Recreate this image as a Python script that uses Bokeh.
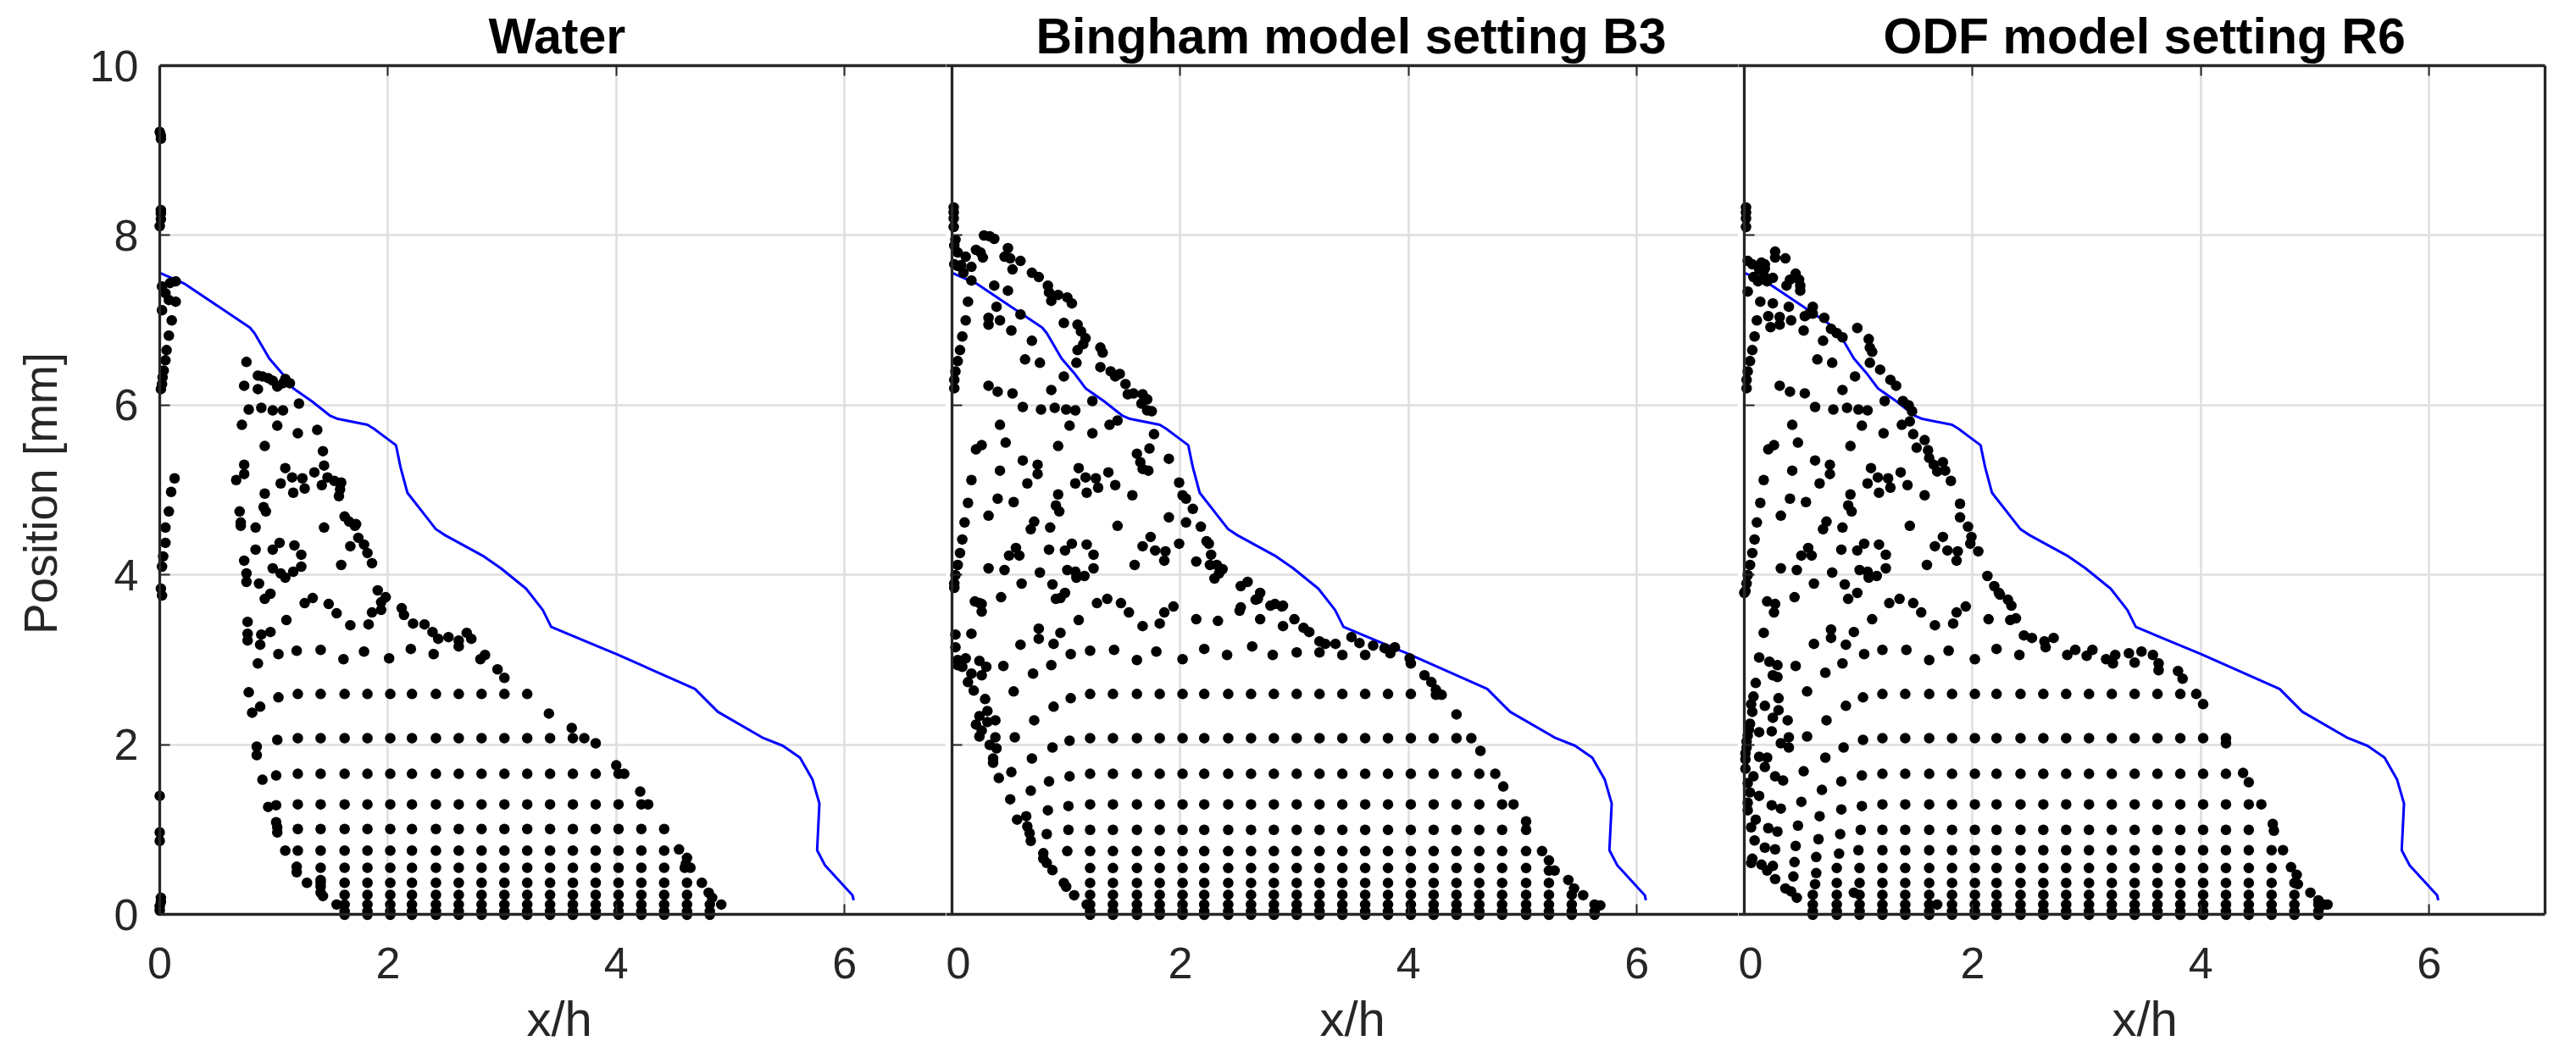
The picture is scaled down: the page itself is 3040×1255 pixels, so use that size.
from bokeh.plotting import figure
from bokeh.layouts import row
from bokeh.models import Range1d, FixedTicker, LinearAxis, Grid, Title
from bokeh.embed import file_html
from bokeh.resources import INLINE

titles = ["Water", "Bingham model setting B3", "ODF model setting R6"]
title_offsets = [395, 106, 171]
x_label = "x/h"
x_label_offsets = [440, 441, 441]
y_label = "Position [mm]"
x_ticks = [0, 2, 4, 6]
y_ticks = [0, 2, 4, 6, 8, 10]

front_x = [0.0,0.22,0.79,0.83,0.96,1.07,1.17,1.33,1.49,1.56,1.82,1.88,2.07,2.11,2.17,2.42,2.5,2.84,2.99,3.21,3.356,3.43,4.0,4.69,4.89,5.29,5.46,5.61,5.72,5.78,5.76,5.83,6.07,6.08]
front_y = [7.56,7.43,6.915,6.85,6.55,6.38,6.2,6.05,5.88,5.84,5.77,5.72,5.53,5.27,4.97,4.54,4.47,4.22,4.08,3.84,3.59,3.39,3.07,2.66,2.39,2.08,1.99,1.85,1.59,1.31,0.76,0.58,0.23,0.17]

# columns of the regular particle block, and each panel's rows: (y, first column, last column)
block_cols = [0.6,0.81,1.01,1.21,1.41,1.62,1.82,2.02,2.21,2.42,2.62,2.82,3.02,3.22,3.42,3.62,3.82,4.02,4.22,4.42,4.62,4.82,5.03,5.23,5.43,5.63]
water_rows = [(2.6,1.21,3.22),(2.08,1.21,3.62),(1.66,1.21,4.02),(1.3,1.21,4.22),(1.01,1.21,4.42),(0.755,1.21,4.42),(0.553,1.41,4.42),(0.376,1.41,4.62),(0.234,1.62,4.62),(0.12,1.62,4.82),(0.04,1.62,4.82),(0.0,1.62,4.82)]
bingham_rows = [(2.6,1.21,4.02),(2.08,1.21,4.42),(1.66,1.21,4.62),(1.3,1.21,4.82),(1.0,1.21,4.82),(0.75,1.01,5.03),(0.55,1.21,5.03),(0.375,1.21,5.23),(0.235,1.21,5.43),(0.12,1.21,5.63),(0.04,1.21,5.63),(0.0,1.21,5.63)]
odf_rows = [(2.6,1.21,3.82),(2.08,1.21,4.22),(1.66,1.21,4.22),(1.3,1.21,4.42),(1.0,1.21,4.42),(0.76,1.21,4.62),(0.55,0.81,4.62),(0.375,0.81,4.82),(0.235,0.6,4.82),(0.12,0.6,5.03),(0.04,0.6,5.03),(0.0,0.6,5.03)]

water_pts = [(0,9.22),(0.01,9.18),(0.01,9.14),(0.01,8.3),(0.01,8.26),(0.01,8.19),(0,8.11),
(0.14,7.46),(0.09,7.44),(0.02,7.4),(0.05,7.32),(0.08,7.24),(0.14,7.22),(0.02,7.12),(0.105,7.0),(0.08,6.82),(0.06,6.65),(0.05,6.53),(0.035,6.41),(0.025,6.33),(0.02,6.25),(0.01,6.19),
(0.76,6.51),(0.74,6.23),(0.86,6.19),(0.86,6.35),(0.9,6.34),(0.95,6.32),(0.99,6.29),(1.03,6.22),(1.08,6.26),(1.1,6.31),(1.14,6.26),(1.22,6.02),(0.78,5.95),(0.89,5.97),(0.99,5.94),(1.08,5.94),
(0.72,5.77),(1.03,5.76),(1.21,5.67),(1.38,5.71),(0.92,5.52),(1.43,5.46),(0.74,5.3),(0.74,5.19),(0.67,5.12),(1.1,5.26),(1.16,5.15),(1.25,5.14),(1.06,5.08),(1.27,5.02),(1.17,4.97),
(1.355,5.21),(1.44,5.29),(1.47,5.15),(1.42,5.06),(1.53,5.11),(1.59,5.09),(1.58,5.01),(1.57,4.93),(0.13,5.14),(0.1,4.98),(0.08,4.75),(0.92,4.96),(0.91,4.8),(0.93,4.75),(0.7,4.75),(0.71,4.62),
(1.62,4.69),(1.66,4.63),(1.72,4.6),(0.05,4.56),(0.05,4.38),(0.03,4.22),(0.02,4.1),(0.01,3.84),(0.02,3.76),(0.71,4.58),(0.84,4.56),(1.44,4.56),(1.71,4.58),(1.74,4.44),(1.79,4.36),(1.67,4.34),(1.82,4.26),(1.86,4.14),(1.59,4.12),
(0.84,4.3),(0.99,4.3),(1.05,4.38),(1.18,4.35),(1.24,4.24),(1.24,4.1),(1.17,4.04),(1.1,3.97),(1.06,4.02),(0.99,4.08),(0.74,4.17),(0.76,4.02),(0.76,3.92),(0.87,3.9),(0.97,3.78),(0.92,3.72),
(1.27,3.67),(1.34,3.73),(1.48,3.66),(1.55,3.55),(1.67,3.41),(1.83,3.42),(1.86,3.56),(1.94,3.59),(1.91,3.82),(1.98,3.74),(1.94,3.68),(2.12,3.61),(2.14,3.53),(2.22,3.43),(2.32,3.42),(2.39,3.33),(2.44,3.25),(2.53,3.27),(2.62,3.23),(2.62,3.16),(2.69,3.32),(2.73,3.25),
(1.11,3.47),(0.97,3.33),(0.89,3.3),(0.77,3.45),(0.77,3.31),(0.77,3.23),(0.88,3.18),(1.04,3.07),(1.2,3.11),(1.41,3.12),(1.61,3.01),(1.79,3.1),(2.01,3.02),(2.2,3.13),(2.4,3.07),(2.81,3.01),(2.85,3.06),(2.96,2.89),(3.02,2.79),(0.86,2.96),
(0.78,2.62),(1.04,2.56),(0.88,2.45),(0.81,2.38),(3.41,2.37),(1.03,2.06),(3.61,2.2),(3.72,2.08),(3.82,2.02),(0.85,1.98),(0.85,1.88),(0.9,1.59),(1.02,1.64),(4.0,1.76),(4.07,1.66),
(0.95,1.27),(1.02,1.29),(4.21,1.45),(4.28,1.3),(0,1.4),(0,0.97),(0,0.87),(1.02,1.09),(1.03,1.03),(1.03,0.97),(1.1,0.755),(4.55,0.77),(4.62,0.67),(1.2,0.565),(1.2,0.5),(4.6,0.553),(4.65,0.553),(4.61,0.6),
(1.29,0.376),(1.41,0.41),(1.41,0.33),(4.75,0.376),(1.41,0.26),(1.43,0.22),(4.81,0.26),(4.84,0.2),(1.55,0.12),(4.92,0.12),(0.01,0.2),(0.01,0.15),(0,0.1),(0,0.05)]

bingham_pts = [(0.015,8.33),(0.015,8.27),(0.015,8.2),(0.015,8.1),(0.03,7.95),(0.02,7.88),(0.05,7.8),(0.12,7.75),(0.02,7.66),(0.08,7.65),(0.17,7.63),(0.05,7.64),(0.1,7.56),(0.17,7.47),
(0.28,8.0),(0.33,7.99),(0.37,7.96),(0.21,7.83),(0.25,7.8),(0.27,7.74),(0.49,7.85),(0.46,7.75),(0.51,7.73),(0.6,7.7),(0.53,7.6),(0.7,7.56),(0.76,7.51),(0.84,7.41),(0.85,7.33),(0.87,7.23),(0.93,7.3),(1.01,7.27),(1.05,7.2),
(0.37,7.41),(0.49,7.35),(0.14,7.22),(0.39,7.16),(0.6,7.07),(0.12,7.0),(0.32,7.03),(0.32,6.95),(0.42,7.0),(0.52,6.88),(0.09,6.81),(0.7,6.76),(0.98,6.97),(1.1,6.95),(1.13,6.87),(1.17,6.79),(1.15,6.72),(1.1,6.65),(1.09,6.5),
(1.3,6.68),(1.32,6.62),(1.3,6.45),(1.39,6.4),(1.47,6.37),(1.43,6.34),(1.52,6.25),(1.54,6.13),(1.59,6.14),(1.67,6.13),(1.71,6.07),(1.66,6.02),(1.71,5.94),(1.75,5.93),
(0.07,6.65),(0.05,6.52),(0.03,6.4),(0.02,6.3),(0.02,6.2),(0.64,6.54),(0.77,6.5),(0.98,6.34),(0.32,6.23),(0.4,6.16),(0.53,6.14),(0.87,6.18),(0.62,5.98),(0.78,5.95),(0.9,5.97),(1.0,5.95),(1.08,5.94),(1.23,6.05),
(0.42,5.77),(1.03,5.76),(1.23,5.67),(1.38,5.77),(1.45,5.82),(1.77,5.66),(1.73,5.49),(0.26,5.53),(0.21,5.48),(0.47,5.56),(0.93,5.52),(1.62,5.43),(1.65,5.33),(1.67,5.25),(1.72,5.23),(1.9,5.37),
(0.62,5.35),(0.75,5.3),(0.75,5.19),(0.42,5.23),(0.17,5.12),(0.66,5.08),(1.11,5.26),(1.17,5.15),(1.26,5.14),(1.08,5.08),(1.28,5.03),(1.18,4.97),(1.37,5.21),(1.43,5.06),(1.58,4.94),(1.99,5.09),(2.02,4.94),(2.05,4.9),(2.11,4.78),
(0.14,4.85),(0.4,4.9),(0.54,4.86),(0.93,4.95),(0.91,4.82),(0.94,4.75),(0.11,4.62),(0.32,4.7),(0.72,4.63),(0.69,4.54),(0.86,4.56),(1.45,4.58),(1.9,4.68),(2.05,4.62),(2.18,4.57),
(0.09,4.42),(0.07,4.26),(0.05,4.12),(0.03,4.0),(0.02,3.9),(0.02,3.85),(1.74,4.45),(1.67,4.34),(1.78,4.29),(1.87,4.28),(1.86,4.17),(1.99,4.37),(1.6,4.12),(2.14,4.16),(2.23,4.4),(2.25,4.37),(2.27,4.24),(2.26,4.12),(2.32,4.12),(2.37,4.07),(2.34,4.02),(2.3,3.96),
(0.56,4.32),(0.5,4.23),(0.59,4.23),(0.85,4.3),(0.99,4.29),(1.05,4.37),(1.18,4.36),(1.24,4.24),(1.24,4.08),(0.32,4.08),(0.46,4.06),(0.77,4.03),(1.01,4.06),(1.08,4.04),(1.09,3.97),(1.16,3.99),
(0.61,3.9),(0.88,3.89),(0.99,3.79),(0.91,3.72),(0.43,3.74),(0.2,3.69),(0.26,3.66),(1.36,3.72),(1.27,3.67),(1.48,3.67),(1.94,3.63),(2.53,3.87),(2.59,3.92),(2.7,3.79),(2.66,3.71),(2.83,3.66),(2.9,3.64),(2.53,3.62),
(0.24,3.67),(0.26,3.57),(0.95,3.73),(1.55,3.56),(1.67,3.4),(1.82,3.43),(1.86,3.56),(2.14,3.48),(2.33,3.46),(2.52,3.58),(2.68,3.72),(2.7,3.48),(2.79,3.64),(2.89,3.63),(2.9,3.4),(3.0,3.48),(3.08,3.38),(3.13,3.33),(3.22,3.22),(3.27,3.19),(3.36,3.19),(3.5,3.27),(3.57,3.2),(3.69,3.17),(3.79,3.14),(3.88,3.15),(3.84,3.08),
(1.11,3.47),(0.95,3.32),(0.76,3.37),(0.76,3.25),(0.89,3.19),(0.03,3.3),(0.17,3.31),(0.6,3.18),(0.03,3.15),(1.04,3.07),(1.21,3.11),(1.42,3.12),(1.62,3.0),(1.79,3.1),(2.02,3.01),(2.21,3.13),(2.41,3.06),(2.63,3.16),(2.81,3.06),(3.02,3.09),(3.22,3.09),(3.42,3.06),(3.62,3.06),(4.01,3.02),(4.02,2.96),
(0.87,2.94),(0.71,2.84),(0.45,2.93),(0.54,2.63),(0.05,3.0),(0.12,3.02),(0.24,2.99),(0.3,2.92),(0.26,2.82),(0.17,2.84),(0.09,2.92),(0.05,2.94),(0.14,2.74),(0.19,2.64),(0.29,2.54),
(4.14,2.82),(4.2,2.74),(4.24,2.65),(4.24,2.59),(4.29,2.59),(1.04,2.55),(0.89,2.45),(0.72,2.29),(4.42,2.36),(1.03,2.05),(0.88,1.97),(0.7,1.84),(4.55,2.08),(4.63,1.93),
(0.31,2.4),(0.24,2.34),(0.38,2.29),(0.21,2.24),(0.31,2.27),(0.26,2.17),(0.24,2.1),(0.38,2.09),(0.55,2.09),(0.33,2.0),(0.39,1.96),(0.36,1.84),(0.36,1.79),(0.52,1.68),(0.41,1.61),(0.69,1.46),(0.51,1.36),(0.85,1.57),
(1.03,1.63),(4.76,1.66),(4.83,1.51),(1.02,1.28),(0.84,1.23),(4.92,1.3),(1.02,1.0),(0.83,0.95),(0.57,1.12),(0.65,1.16),(0.66,1.04),(0.68,0.96),(0.69,0.87),(5.03,1.1),(5.03,1.0),
(0.8,0.725),(0.8,0.66),(0.83,0.61),(5.17,0.75),(0.88,0.525),(5.23,0.64),(5.23,0.52),(5.28,0.52),(0.98,0.375),(1.0,0.33),(5.4,0.41),(5.45,0.31),(1.07,0.23),(5.53,0.23),(1.18,0.12),(5.68,0.11)]

odf_pts = [(0.015,8.33),(0.015,8.27),(0.015,8.2),(0.015,8.1),(0.27,7.81),(0.27,7.74),(0.36,7.73),(0.03,7.7),(0.07,7.66),(0.15,7.68),(0.18,7.66),(0.13,7.6),(0.18,7.61),(0.08,7.51),(0.12,7.46),(0.17,7.53),(0.25,7.5),(0.2,7.46),(0.03,7.34),
(0.45,7.55),(0.4,7.48),(0.37,7.41),(0.48,7.48),(0.49,7.41),(0.49,7.35),(0.14,7.22),(0.25,7.2),(0.39,7.16),(0.6,7.16),(0.57,7.08),(0.53,7.05),(0.6,7.08),(0.11,7.0),(0.21,7.05),(0.23,6.92),(0.31,7.04),(0.31,6.95),(0.41,7.0),(0.52,6.88),(0.7,7.03),(0.09,6.81),(0.69,6.76),
(0.76,6.9),(0.81,6.85),(0.86,6.8),(0.99,6.91),(1.09,6.78),(1.1,6.68),(1.12,6.63),(1.1,6.5),(0.07,6.65),(0.05,6.52),(0.03,6.4),(0.02,6.3),(0.02,6.2),(0.64,6.54),(0.77,6.5),(0.97,6.34),(1.19,6.42),(1.28,6.3),(1.33,6.23),
(0.31,6.23),(0.4,6.16),(0.53,6.14),(0.86,6.18),(0.62,5.98),(0.78,5.95),(0.9,5.97),(1.0,5.95),(1.08,5.94),(1.23,6.05),(1.39,6.05),(1.44,6.0),(1.47,5.93),(0.42,5.77),(1.03,5.76),(1.22,5.67),(1.38,5.77),(1.45,5.81),(1.48,5.66),
(0.26,5.53),(0.21,5.48),(0.47,5.56),(0.93,5.52),(1.58,5.59),(1.51,5.5),(1.61,5.47),(1.62,5.38),(1.66,5.3),(1.74,5.33),(1.69,5.22),(1.76,5.23),(1.81,5.11),(0.62,5.35),(0.75,5.3),(0.75,5.19),(0.42,5.23),(0.17,5.12),(0.66,5.08),
(1.11,5.26),(1.17,5.15),(1.26,5.14),(1.08,5.08),(1.28,5.03),(1.18,4.97),(1.37,5.21),(1.43,5.06),(1.58,4.94),(0.14,4.85),(0.4,4.9),(0.54,4.86),(0.93,4.95),(0.91,4.82),(0.94,4.75),(0.11,4.62),(0.32,4.7),(0.72,4.63),(0.69,4.54),(0.86,4.56),(1.45,4.58),
(1.89,4.84),(1.89,4.68),(1.96,4.57),(1.99,4.45),(1.98,4.37),(2.05,4.28),(0.09,4.42),(0.07,4.26),(0.05,4.12),(0.03,4.0),(0.02,3.9),(0.01,3.81),(1.74,4.45),(1.67,4.34),(1.78,4.29),(1.87,4.28),(1.86,4.17),(1.6,4.12),
(0.56,4.32),(0.5,4.23),(0.59,4.23),(0.85,4.3),(0.99,4.29),(1.05,4.37),(1.18,4.36),(1.24,4.24),(1.24,4.08),(0.32,4.08),(0.46,4.06),(0.77,4.03),(1.01,4.06),(1.08,4.04),(1.09,3.97),(1.16,3.99),(0.61,3.9),(0.88,3.89),(0.99,3.79),(0.91,3.72),(0.44,3.74),(0.2,3.69),(0.27,3.66),(1.36,3.72),(1.27,3.67),(1.48,3.67),(1.94,3.63),
(2.13,3.99),(2.19,3.87),(2.24,3.77),(2.31,3.71),(2.34,3.64),(0,3.79),(0.26,3.56),(1.55,3.56),(1.67,3.41),(1.83,3.43),(1.86,3.56),(2.14,3.48),(2.33,3.47),(2.38,3.49),(2.23,3.79),
(1.12,3.48),(0.96,3.33),(0.76,3.36),(0.76,3.26),(0.89,3.18),(0.17,3.32),(0.61,3.19),(2.45,3.29),(2.52,3.26),(2.63,3.22),(2.71,3.26),(2.64,3.15),(1.05,3.07),(1.21,3.12),(1.42,3.12),(1.62,3.0),(1.79,3.11),(2.02,3.01),(2.21,3.13),(2.41,3.06),
(2.83,3.06),(2.9,3.12),(3.0,3.05),(3.05,3.12),(3.17,3.01),(3.23,2.96),(3.25,3.06),(3.37,3.08),(3.48,3.1),(3.58,3.06),(3.42,2.97),(3.63,2.96),(3.63,2.88),(3.8,2.87),(3.84,2.78),(0.86,2.96),(0.71,2.85),(0.45,2.93),(0.55,2.63),
(0.13,3.03),(0.22,2.98),(0.29,2.94),(0.25,2.82),(0.29,2.8),(0.1,2.73),(1.04,2.56),(0.89,2.46),(0.72,2.29),(3.96,2.6),(4.02,2.48),(0.08,2.57),(0.07,2.39),(0.05,2.25),(0.03,2.11),(0.02,1.97),(0.01,1.83),(0.01,1.72),(0.06,2.48),(0.04,2.18),(0.02,2.04),(0.01,1.9),
(0.3,2.55),(0.18,2.46),(0.3,2.41),(0.25,2.32),(0.38,2.29),(0.13,2.15),(0.24,2.16),(0.39,2.09),(0.55,2.1),(0.32,2.02),(0.39,1.97),(0.13,1.86),(0.2,1.85),(0.18,1.74),(0.08,1.63),(1.04,2.06),(0.87,1.97),(0.71,1.85),(4.22,2.02),
(0.52,1.69),(0.27,1.63),(0.34,1.58),(0.03,1.55),(0.85,1.57),(0.68,1.47),(1.03,1.64),(4.37,1.67),(4.42,1.56),(1.03,1.28),(0.85,1.24),(0.66,1.16),(4.53,1.3),(0.5,1.33),(0.13,1.4),(0.05,1.44),(0.03,1.23),(0.03,1.32),(0.24,1.29),(0.32,1.25),
(1.02,1.0),(0.84,0.95),(0.65,0.89),(0.47,1.05),(4.63,1.07),(4.64,0.99),(0.1,1.12),(0.06,1.03),(0.21,1.02),(0.29,0.98),(1.0,0.76),(0.83,0.72),(0.63,0.68),(0.45,0.81),(4.72,0.76),(0.09,0.875),(0.18,0.79),(0.27,0.77),(0.07,0.66),(0.06,0.61),
(0.63,0.49),(0.44,0.62),(4.79,0.56),(4.84,0.47),(4.85,0.36),(0.15,0.59),(0.25,0.575),(0.2,0.52),(0.27,0.42),(0.62,0.36),(0.43,0.45),(0.96,0.26),(4.96,0.26),(5.03,0.17),(5.08,0.12),(5.11,0.12),(0.36,0.31),(0.41,0.275),(0.46,0.2),(1.69,0.12)]

DARK = "#262626"
FONT = "Liberation Sans"
X_END_NARROW = 6.89
X_END_WIDE = 7.016
X_PAD = 0.052
Y_PAD = 0.075


def expand(rows):
    xs, ys = [], []
    for y, first, last in rows:
        for c in block_cols:
            if first <= c <= last:
                xs.append(c)
                ys.append(y)
    return xs, ys


def line_axis(ticks, bounds=None, location=None):
    """An axis that only draws its line and inward ticks."""
    ax = LinearAxis(ticker=FixedTicker(ticks=ticks))
    ax.major_label_text_font_size = "0px"
    ax.major_label_overrides = {t: "" for t in ticks}
    ax.major_tick_out = 0
    ax.major_tick_in = 12
    ax.minor_tick_line_color = None
    ax.axis_line_color = DARK
    ax.axis_line_width = 3.3
    ax.major_tick_line_color = DARK
    ax.major_tick_line_width = 2
    if bounds is not None:
        ax.bounds = bounds
    if location is not None:
        ax.fixed_location = location
    return ax


def label_axis(ax, label, tick_standoff, label_standoff, label_size):
    """An outer axis: tick labels and axis label only."""
    ax.axis_line_color = None
    ax.major_tick_line_color = None
    ax.minor_tick_line_color = None
    ax.major_tick_in = 0
    ax.major_tick_out = 0
    ax.major_label_text_font = FONT
    ax.major_label_text_font_size = "52px"
    ax.major_label_text_color = DARK
    ax.major_label_standoff = tick_standoff
    ax.axis_label = label
    ax.axis_label_text_font = FONT
    ax.axis_label_text_font_size = label_size
    ax.axis_label_text_font_style = "normal"
    ax.axis_label_text_color = DARK
    ax.axis_label_standoff = label_standoff


def panel(i, pts, rows, left_border, frame_w, x_end, right_border):
    p = figure(output_backend="svg", toolbar_location=None,
               frame_width=frame_w, frame_height=1010,
               x_range=Range1d(-X_PAD, x_end), y_range=Range1d(-Y_PAD, 10),
               min_border_left=left_border, min_border_right=right_border,
               min_border_top=77, min_border_bottom=150,
               title=titles[i], background_fill_color="white")
    p.outline_line_color = None
    p.title.align = "left"
    p.title.offset = title_offsets[i]
    p.title.text_font = FONT
    p.title.text_font_size = "59px"
    p.title.text_font_style = "bold"
    p.title.text_color = "black"
    p.title.standoff = 4

    xa, ya = p.xaxis[0], p.yaxis[0]
    xa.ticker = FixedTicker(ticks=x_ticks)
    ya.ticker = FixedTicker(ticks=y_ticks)
    label_axis(xa, None, 31, 0, "58px")
    if i == 0:
        label_axis(ya, y_label, 18, 24, "55px")
    else:
        ya.visible = False

    # x/h sits a little right of the frame's centre
    p.add_layout(Title(text=x_label, align="left", offset=x_label_offsets[i], standoff=20,
                       text_font=FONT, text_font_size="58px", text_font_style="normal",
                       text_color=DARK), "below")

    # the black box: bottom and left lines sit on x=0 / y=0
    p.add_layout(line_axis(x_ticks, (0, x_end) if i == 0 else None, 0), "below")
    p.add_layout(line_axis(y_ticks, (0, 10), 0), "left")
    p.add_layout(line_axis(x_ticks, (0, x_end) if i == 0 else None), "above")
    if i == 2:
        p.add_layout(line_axis([], (0, 10)), "right")

    p.xgrid.grid_line_color = "#dedede"
    p.ygrid.grid_line_color = "#dedede"
    p.xgrid.grid_line_width = 2.5
    p.ygrid.grid_line_width = 2.5
    if "cross_bounds" in Grid.properties():
        p.xgrid.cross_bounds = (0, 10)
        p.ygrid.cross_bounds = (0, x_end)

    p.line(front_x, front_y, line_color="#0000ff", line_width=3)
    bx, by = expand(rows)
    px = [a for a, _ in pts] + bx
    py = [b for _, b in pts] + by
    p.scatter(px, py, size=12.5, marker="circle", fill_color="black", line_color=None)
    return p


p1 = panel(0, water_pts, water_rows, 181, 935, X_END_NARROW, 0)
p2 = panel(1, bingham_pts, bingham_rows, 0, 935, X_END_NARROW, 0)
p3 = panel(2, odf_pts, odf_rows, 0, 952, X_END_WIDE, 20)
page = row(p1, p2, p3)
open("out.html", "w").write(file_html(page, INLINE))
